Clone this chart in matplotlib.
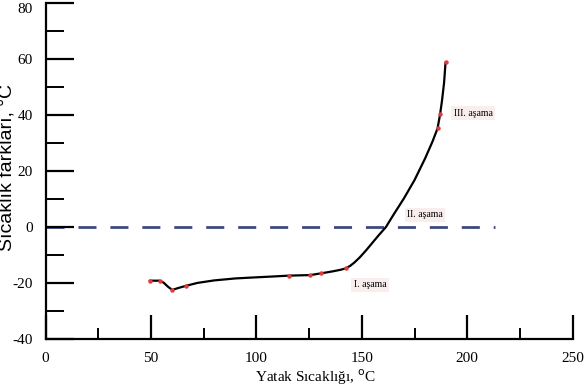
import numpy as np
import matplotlib
matplotlib.use("Agg")
import matplotlib.pyplot as plt
import matplotlib.transforms as mtransforms
from matplotlib.ticker import MultipleLocator

plt.rcParams["axes.unicode_minus"] = False

# measured points (red dots)
pt_x = [49.4, 54.1, 60.1, 66.8, 115.3, 125.6, 130.5, 142.4, 185.9, 187.1, 189.7]
pt_y = [-19.1, -19.1, -22.4, -20.9, -17.3, -17.1, -16.5, -14.7, 35.2, 40.2, 58.8]

# traced curve through the points
curve_x = [49.4, 54.1, 56.0, 58.0, 60.1, 63.0, 66.8, 72, 80, 90, 100, 108, 115.3,
           125.6, 130.5, 136, 140, 142.4, 144.5, 146.5, 149, 152, 155, 158, 161.4,
           165, 170, 175, 180, 183.5, 185.9, 187.1, 188.0, 189.0, 189.7]
curve_y = [-19.1, -19.1, -19.8, -21.2, -22.4, -21.7, -20.9, -19.9, -19.0, -18.3,
           -17.9, -17.6, -17.3, -17.1, -16.5, -15.8, -15.2, -14.7, -13.8, -12.6,
           -10.8, -8.3, -5.6, -2.9, 0.0, 4.4, 10.3, 16.8, 24.5, 30.5, 35.2, 40.2,
           45.0, 51.5, 58.8]

stage_labels = ["I. aşama", "II. aşama", "III. aşama"]
stage_x = [153.8, 179.9, 202.8]
stage_y = [-20.6, 4.4, 40.6]

serif = ["Liberation Serif", "DejaVu Serif"]

fig = plt.figure(figsize=(5.85, 3.89), dpi=100)
ax = fig.add_axes([0.0778, 0.1278, 0.9012, 0.865])

ax.plot([0, 213], [0, 0], color="#3d4a7c", lw=2.0, dashes=(6.5, 5), zorder=1)
ax.plot(curve_x, curve_y, color="black", lw=1.6, zorder=2,
        solid_joinstyle="round", solid_capstyle="round")
ax.plot(pt_x, pt_y, "o", color="#e03a3a", ms=3.2, mec="none", zorder=3)

for lab, x, y in zip(stage_labels, stage_x, stage_y):
    ax.text(x, y, lab, fontsize=7, family=serif, ha="center", va="center",
            bbox=dict(boxstyle="square,pad=0.25", fc="#f9eeee", ec="none"))

ax.set_xlim(0, 250)
ax.set_ylim(-40, 80)
ax.xaxis.set_major_locator(MultipleLocator(50))
ax.xaxis.set_minor_locator(MultipleLocator(25))
ax.yaxis.set_major_locator(MultipleLocator(20))
ax.yaxis.set_minor_locator(MultipleLocator(10))

for s in ["top", "right"]:
    ax.spines[s].set_visible(False)
for s in ["left", "bottom"]:
    ax.spines[s].set_linewidth(1.6)

ax.tick_params(axis="x", which="major", direction="in", length=17, width=1.6, pad=9)
ax.tick_params(axis="x", which="minor", direction="in", length=8, width=1.4)
ax.tick_params(axis="y", which="major", direction="in", length=20, width=1.6, pad=9)
ax.tick_params(axis="y", which="minor", direction="in", length=13, width=1.4)
for lbl in ax.get_xticklabels() + ax.get_yticklabels():
    lbl.set_family(serif)
    lbl.set_fontsize(11)

# the top "80" sits right at the figure edge; nudge it down so it is not clipped
top_lbl = ax.yaxis.get_major_ticks()[-1].label1
for t in ax.yaxis.get_major_ticks():
    if abs(t.get_loc() - 80) < 1e-6:
        top_lbl = t.label1
top_lbl.set_transform(top_lbl.get_transform() +
                      mtransforms.ScaledTranslation(0, -4 / 72, fig.dpi_scale_trans))

ax.set_xlabel("Yatak Sıcaklığı, $^{\\rm o}$C", family=serif, fontsize=11)
ax.xaxis.set_label_coords(0.512, -0.085)
fig.text(0.012, 0.57, "Sıcaklık farkları, °C", rotation=90, fontsize=14,
         family=["Liberation Sans", "DejaVu Sans"], ha="center", va="center")

fig.savefig("out.png", dpi=100)
